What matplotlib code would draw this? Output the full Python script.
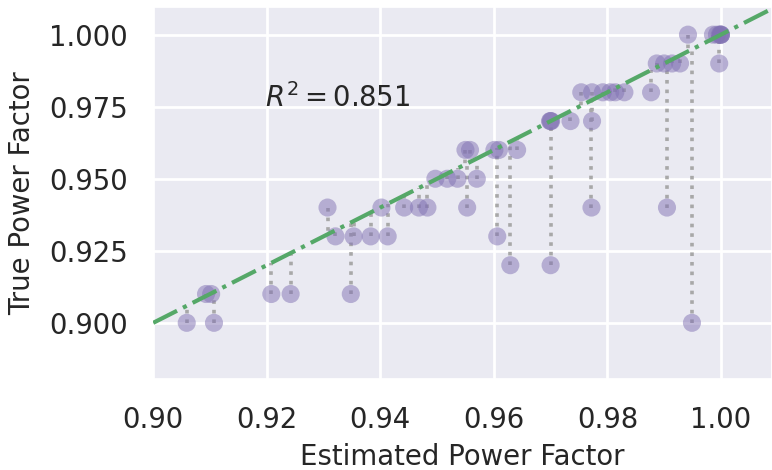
import numpy as np
import matplotlib
matplotlib.use("Agg")
import matplotlib.pyplot as plt
import seaborn as sns

# estimated vs true power factor
est_pf = [0.9059, 0.9107, 0.9949,
          0.9093, 0.9102, 0.9208, 0.9242, 0.9348,
          0.9629, 0.9700,
          0.9321, 0.9353, 0.9383, 0.9413, 0.9606,
          0.9307, 0.9402, 0.9442, 0.9468, 0.9483, 0.9553, 0.9772, 0.9905,
          0.9497, 0.9518, 0.9536, 0.9570,
          0.9550, 0.9558, 0.9601, 0.9609, 0.9641,
          0.9699, 0.9700, 0.9701, 0.9735, 0.9773,
          0.9754, 0.9773, 0.9792, 0.9805, 0.9814, 0.9830, 0.9877,
          0.9887, 0.9900, 0.9914, 0.9928, 0.9997,
          0.9942, 0.9986, 0.9993, 0.9998, 1.0, 1.0, 1.0]
true_pf = [0.90, 0.90, 0.90,
           0.91, 0.91, 0.91, 0.91, 0.91,
           0.92, 0.92,
           0.93, 0.93, 0.93, 0.93, 0.93,
           0.94, 0.94, 0.94, 0.94, 0.94, 0.94, 0.94, 0.94,
           0.95, 0.95, 0.95, 0.95,
           0.96, 0.96, 0.96, 0.96, 0.96,
           0.97, 0.97, 0.97, 0.97, 0.97,
           0.98, 0.98, 0.98, 0.98, 0.98, 0.98, 0.98,
           0.99, 0.99, 0.99, 0.99, 0.99,
           1.00, 1.00, 1.00, 1.00, 1.00, 1.00, 1.00]
r2 = 0.851

sns.set_theme(style="darkgrid")
plt.rcParams['font.family'] = ['DejaVu Sans']
plt.rcParams['grid.linewidth'] = 2.0

fs = 19.8
x = np.array(est_pf)
y = np.array(true_pf)

fig = plt.figure(figsize=(7.72, 4.70), dpi=100)
ax = fig.add_axes([0.1985, 0.1936, 0.8015, 0.7909])

ax.vlines(x, y, x, linestyles=':', colors='#a8a8a8', linewidth=2.6, zorder=2)
ax.scatter(x, y, s=170, color='#8172b3', alpha=0.5, edgecolors='none', zorder=3)
ax.axline((0.9, 0.9), slope=1, linestyle='-.', color='#55a868', linewidth=3, zorder=4)

ax.text(0.9197, 0.975, r'$R^2 = %.3f$' % r2, fontsize=fs, color='#262626')

ax.set_xlim(0.9, 1.009)
ax.set_ylim(0.8805, 1.0095)
ax.set_xticks([0.90, 0.92, 0.94, 0.96, 0.98, 1.00])
ax.set_yticks([0.900, 0.925, 0.950, 0.975, 1.000])
ax.set_xticklabels(['%.2f' % t for t in ax.get_xticks()])
ax.set_yticklabels(['%.3f' % t for t in ax.get_yticks()])
ax.tick_params(axis='both', labelsize=fs, length=0, labelcolor='#262626')
ax.tick_params(axis='x', pad=19.5)
ax.tick_params(axis='y', pad=18)

ax.set_xlabel('Estimated Power Factor', fontsize=fs, color='#262626')
ax.set_ylabel('True Power Factor', fontsize=fs, color='#262626')
ax.xaxis.set_label_coords(0.5, -0.172)
ax.yaxis.set_label_coords(-0.189, 0.5)

plt.savefig('out.png', dpi=100)
